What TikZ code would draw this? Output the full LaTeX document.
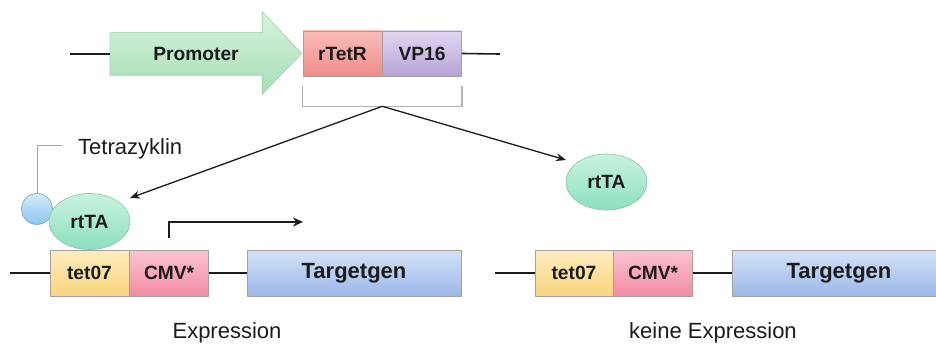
\documentclass[tikz,border=0pt]{standalone}
\usepackage{fontspec}
\setmainfont{Liberation Sans}
\usetikzlibrary{arrows.meta,calc,shapes.geometric}
\definecolor{promTop}{HTML}{D8F3DE}
\definecolor{promBot}{HTML}{A6DEB3}
\definecolor{promLine}{HTML}{9CCDA8}
\definecolor{rtTop}{HTML}{F9BDB8}
\definecolor{rtBot}{HTML}{F08C8A}
\definecolor{vpTop}{HTML}{E0D6F0}
\definecolor{vpBot}{HTML}{B6A3D8}
\definecolor{tetTop}{HTML}{FDEDBE}
\definecolor{tetBot}{HTML}{FBD47E}
\definecolor{cmvTop}{HTML}{FBC4D0}
\definecolor{cmvBot}{HTML}{F28CA4}
\definecolor{tgTop}{HTML}{D6E2F8}
\definecolor{tgBot}{HTML}{9AB7EA}
\definecolor{rttaTop}{HTML}{C8F3DF}
\definecolor{rttaBot}{HTML}{8EDFBE}
\definecolor{rttaLine}{HTML}{86C3A4}
\definecolor{tcTop}{HTML}{D4EBFB}
\definecolor{tcBot}{HTML}{8CC4EE}
\definecolor{tcLine}{HTML}{78A6C8}
\definecolor{boxLine}{HTML}{A8A0A0}
\definecolor{inkc}{HTML}{1C1C1C}
\newcommand\lblfont{\fontsize{19.2}{21}\selectfont\bfseries}
\newcommand\tgfont{\fontsize{22}{24}\selectfont\bfseries}
\newcommand\txtfont{\fontsize{22}{24}\selectfont}
\tikzset{
  genebox/.style={draw=boxLine, line width=0.6pt, minimum height=46pt, inner sep=0pt, font=\lblfont, text=inkc},
  ell/.style={ellipse, draw=rttaLine, line width=0.6pt, minimum width=81pt, minimum height=56pt, inner sep=0pt, top color=rttaTop, bottom color=rttaBot, font=\lblfont, text=inkc},
  dna/.style={line width=1.6pt, draw=inkc},
  conn/.style={line width=1.3pt, draw=inkc, -{Stealth[length=10pt,width=8pt]}},
  txarrow/.style={line width=1.6pt, draw=inkc, -{Stealth[length=10pt,width=9pt]}},
  brk/.style={line width=1.2pt, draw=black!30},
  lblline/.style={line width=1pt, draw=black!35},
  txt/.style={font=\txtfont, text=inkc, inner sep=2pt}
}
\begin{document}
\begin{tikzpicture}[x=1pt,y=-1pt]
\clip (0,0) rectangle (936,345);
\fill[white] (0,0) rectangle (936,345);

% ---------- top construct ----------
\node[genebox, minimum width=79pt, minimum height=45pt, top color=rtTop, bottom color=rtBot] (rtetr) at (342.5,53.5) {rTetR};
\node[genebox, minimum width=79pt, minimum height=45pt, top color=vpTop, bottom color=vpBot, anchor=west] (vp16) at (rtetr.east) {VP16};

\node[minimum width=152pt, minimum height=42pt, inner sep=0pt] (prom) at (186,54) {};
\shade[top color=promTop, bottom color=promBot, draw=promLine, line width=0.6pt]
  (prom.north west) -- (prom.north east) -- ($(prom.north east)+(0,-21)$)
  -- ($(rtetr.west)+(-1,0)$) -- ($(prom.south east)+(0,19)$) -- (prom.south east)
  -- (prom.south west) -- cycle;
\node[font=\lblfont, text=inkc] (promlbl) at ($(prom.center)+(10,0)$) {Promoter};

\coordinate (topL) at (70,54);
\coordinate (topR) at (500,54);
\draw[dna] (topL) -- (prom.west);
\draw[dna] (vp16.east) -- (topR);

% bracket
\draw[brk] ($(rtetr.south west)+(0,10)$) -- ($(rtetr.south west)+(0,30)$) -| ($(vp16.south east)+(0,10)$);
\coordinate (br) at ($(rtetr.south west)!0.5!(vp16.south east)+(0,30)$);

% ---------- left: expression ----------
\node[circle, draw=tcLine, line width=0.6pt, minimum size=31pt, inner sep=0pt, top color=tcTop, bottom color=tcBot] (tetra) at (37,209) {};
\node[ell] (rtta1) at (89.5,221.5) {rtTA};
\node[txt, anchor=west] (tetlbl) at (76,149) {Tetrazyklin};
\draw[lblline] (tetra.north) |- ($(tetlbl.west)+(-14,-4)$);

\node[genebox, minimum width=79pt, top color=tetTop, bottom color=tetBot] (tetA) at (89.5,273) {tet07};
\node[genebox, minimum width=79pt, top color=cmvTop, bottom color=cmvBot, anchor=west] (cmvA) at (tetA.east) {CMV*};
\node[genebox, minimum width=214pt, top color=tgTop, bottom color=tgBot, font=\tgfont] (tgA) at (354,273) {Targetgen};
\coordinate (dnaA) at (10,273);
\draw[dna] (dnaA) -- (tetA.west);
\draw[dna] (cmvA.east) -- (tgA.west);

\coordinate (txstart) at ($(cmvA.north)+(0,-12)$);
\coordinate (txend) at (303,222);
\draw[txarrow] (txstart) |- (txend);

\node[txt] (capA) at (227,333) {Expression};

% ---------- right: no expression ----------
\node[ell] (rtta2) at (606.5,182) {rtTA};
\node[genebox, minimum width=78pt, top color=tetTop, bottom color=tetBot] (tetB) at (574,273) {tet07};
\node[genebox, minimum width=79pt, top color=cmvTop, bottom color=cmvBot, anchor=west] (cmvB) at (tetB.east) {CMV*};
\node[genebox, minimum width=214pt, top color=tgTop, bottom color=tgBot, font=\tgfont] (tgB) at (839,273) {Targetgen};
\coordinate (dnaB) at (495,273);
\draw[dna] (dnaB) -- (tetB.west);
\draw[dna] (cmvB.east) -- (tgB.west);

\node[txt] (capB) at (713,333) {keine Expression};

% ---------- arrows from bracket ----------
\coordinate (tipL) at (130,198);
\coordinate (tipR) at (566,160);
\draw[conn] (br) -- (tipL);
\draw[conn] (br) -- (tipR);
\end{tikzpicture}
\end{document}
